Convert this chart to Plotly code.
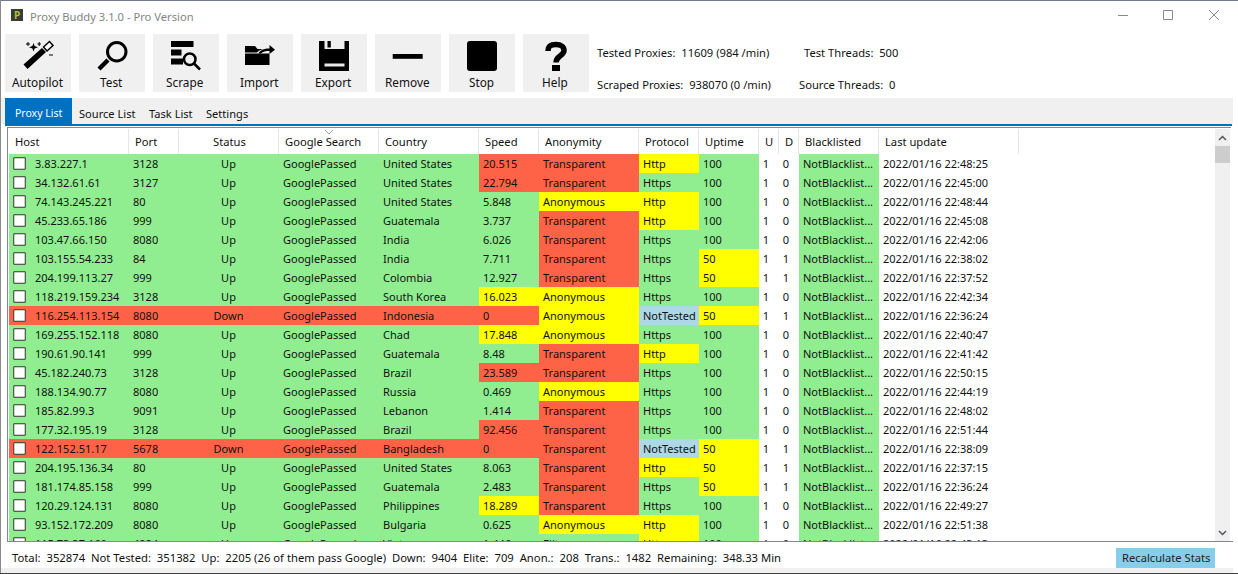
import plotly.graph_objects as go

# table contents
hosts = ["3.83.227.1", "34.132.61.61", "74.143.245.221", "45.233.65.186", "103.47.66.150", "103.155.54.233", "204.199.113.27",
         "118.219.159.234", "116.254.113.154", "169.255.152.118", "190.61.90.141", "45.182.240.73", "188.134.90.77", "185.82.99.3",
         "177.32.195.19", "122.152.51.17", "204.195.136.34", "181.174.85.158", "120.29.124.131", "93.152.172.209", "115.73.37.160"]
ports = ["3128", "3127", "80", "999", "8080", "84", "999", "3128", "8080", "8080", "999", "3128", "8080", "9091", "3128", "5678",
         "80", "999", "8080", "8080", "4284"]
statuses = ["Up", "Up", "Up", "Up", "Up", "Up", "Up", "Up", "Down", "Up", "Up", "Up", "Up", "Up", "Up", "Down", "Up", "Up", "Up", "Up", "Up"]
google = ["GooglePassed"] * 21
countries = ["United States", "United States", "United States", "Guatemala", "India", "India", "Colombia", "South Korea", "Indonesia",
             "Chad", "Guatemala", "Brazil", "Russia", "Lebanon", "Brazil", "Bangladesh", "United States", "Guatemala", "Philippines",
             "Bulgaria", "Vietnam"]
speeds = ["20.515", "22.794", "5.848", "3.737", "6.026", "7.711", "12.927", "16.023", "0", "17.848", "8.48", "23.589", "0.469", "1.414",
          "92.456", "0", "8.063", "2.483", "18.289", "0.625", "1.446"]
anonymity = ["Transparent", "Transparent", "Anonymous", "Transparent", "Transparent", "Transparent", "Transparent", "Anonymous",
             "Anonymous", "Anonymous", "Transparent", "Transparent", "Anonymous", "Transparent", "Transparent", "Transparent",
             "Transparent", "Transparent", "Transparent", "Anonymous", "Elite"]
protocols = ["Http", "Https", "Http", "Http", "Https", "Https", "Https", "Https", "NotTested", "Https", "Http", "Https", "Https", "Https",
             "Https", "NotTested", "Http", "Https", "Https", "Http", "Http"]
uptimes = ["100", "100", "100", "100", "100", "50", "50", "100", "50", "100", "100", "100", "100", "100", "100", "50", "50", "50", "100", "100", "100"]
ups = ["1"] * 21
downs = ["0", "0", "0", "0", "0", "1", "1", "0", "1", "0", "0", "0", "0", "0", "0", "1", "1", "1", "0", "0", "0"]
blacklisted = ["NotBlacklist..."] * 21
updates = ["22:48:25", "22:45:00", "22:48:44", "22:45:08", "22:42:06", "22:38:02", "22:37:52", "22:42:34", "22:36:24", "22:40:47",
           "22:41:42", "22:50:15", "22:44:19", "22:48:02", "22:51:44", "22:38:09", "22:37:15", "22:36:24", "22:49:27", "22:51:38", "22:43:13"]
updates = ["2022/01/16 " + t for t in updates]

headers = ["Host", "Port", "Status", "Google Search", "Country", "Speed", "Anonymity", "Protocol", "Uptime", "U", "D", "Blacklisted", "Last update"]
buttons = ["Autopilot", "Test", "Scrape", "Import", "Export", "Remove", "Stop", "Help"]
tabs = ["Proxy List", "Source List", "Task List", "Settings"]

FONT = "Noto Sans"
FS = 11
LABEL_FS = 11.2
INK = "#111111"
WHITE, GREEN, RED, YELLOW, BLUE = 0, 1, 2, 3, 4
PALETTE = ["#ffffff", "#90ee90", "#ff6347", "#ffff00", "#add8e6"]

col_edges = [9, 129, 179, 279, 379, 479, 539, 639, 699, 759, 779, 799, 879, 1019]
row_edges = [154 + 19 * i for i in range(len(hosts) + 1)]
row_mid = [154 + 9.5 + 19 * i for i in range(len(hosts))]
text_y = [y + 1.5 for y in row_mid]


def speed_code(speed, status):
    val = float(speed)
    if status == "Down" or val >= 20:
        return RED
    return YELLOW if val >= 16 else GREEN


z = []
for i in range(len(hosts)):
    base = RED if statuses[i] == "Down" else GREEN
    z.append([base, base, base, base, base,
              speed_code(speeds[i], statuses[i]),
              {"Transparent": RED, "Anonymous": YELLOW, "Elite": GREEN}[anonymity[i]],
              {"Http": YELLOW, "Https": GREEN, "NotTested": BLUE}[protocols[i]],
              GREEN if uptimes[i] == "100" else YELLOW,
              WHITE, WHITE, GREEN, WHITE])

fig = go.Figure()
fig.add_trace(go.Heatmap(x=col_edges, y=row_edges, z=z, zmin=0, zmax=4, showscale=False, hoverinfo="skip",
                         colorscale=[[i / 4, c] for i, c in enumerate(PALETTE)]))
fig.add_trace(go.Scatter(x=[19.5] * len(hosts), y=row_mid, mode="markers", hoverinfo="skip",
                         marker=dict(symbol="square", size=11.5, color="white", line=dict(color="#333333", width=1))))

columns = [(hosts, 35, "middle right"), (ports, 133, "middle right"), (statuses, 228.5, "middle center"),
           (google, 283, "middle right"), (countries, 383, "middle right"), (speeds, 483, "middle right"),
           (anonymity, 543, "middle right"), (protocols, 643, "middle right"), (uptimes, 703, "middle right"),
           (ups, 766, "middle center"), (downs, 786, "middle center"), (blacklisted, 803, "middle right"),
           (updates, 883, "middle right")]
for values, x, pos in columns:
    fig.add_trace(go.Scatter(x=[x] * len(values), y=text_y, mode="text", text=values, textposition=pos, hoverinfo="skip",
                             textfont=dict(family=FONT, size=FS, color=INK)))

shapes = []
notes = []


def rect(x0, y0, x1, y1, color, layer="above"):
    shapes.append(dict(type="rect", x0=x0, y0=y0, x1=x1, y1=y1, fillcolor=color, line_width=0, layer=layer))


def line(x0, y0, x1, y1, color, width=1):
    shapes.append(dict(type="line", x0=x0, y0=y0, x1=x1, y1=y1, line=dict(color=color, width=width), layer="above"))


def path(d, fill="black", stroke=None, width=0):
    shapes.append(dict(type="path", path=d, fillcolor=fill, layer="above", line=dict(color=stroke or "rgba(0,0,0,0)", width=width)))


def label(x, y, text, color=INK, size=LABEL_FS, anchor="left", family=FONT):
    # annotations sit about 1px right of the given x when left anchored
    notes.append(dict(x=x - 1 if anchor == "left" else x, y=y, text=text, showarrow=False, xanchor=anchor, yanchor="middle", borderpad=0,
                      font=dict(family=family, size=size, color=color)))


# window chrome
rect(0, 0, 1238, 1, "#6f7b8a")
rect(0, 0, 1, 574, "#8a8a8a")
rect(0, 573, 1238, 574, "#404040")
rect(11, 9, 23, 21, "#3a3a3a")
label(17, 15, "<b>P</b>", "#a8c81e", 10, "center")
label(30, 16, "Proxy Buddy 3.1.0 - Pro Version", "#858585", 11.2)
line(1118, 15.5, 1128, 15.5, "#888888")
shapes.append(dict(type="rect", x0=1163.5, y0=10.5, x1=1172.5, y1=19.5, line=dict(color="#888888", width=1), layer="above"))
line(1209, 10, 1219, 20, "#888888")
line(1219, 10, 1209, 20, "#888888")

# toolbar
for i, name in enumerate(buttons):
    x0 = 5 + 74 * i
    rect(x0, 34, x0 + 66, 92, "#f0f0f0")
    label(x0 + 32, 82, name, INK, 11.8, "center")

# autopilot wand
path("M23.5,64.5 L27.5,69 L46,52 L42,48 Z")
path("M43.5,47 L47,51 L53,45.5 L49.5,41.5 Z", "white", "black", 1.5)
path("M33.5,43 L34.6,46 L38,47.2 L34.6,48.4 L33.5,51.5 L32.4,48.4 L29,47.2 L32.4,46 Z")
line(26, 44, 30, 44, "black")
line(28, 42, 28, 46, "black")
line(37.5, 44, 41, 44, "black")
line(39.2, 42, 39.2, 46, "black")
line(49, 55, 53, 55, "black")
# test magnifier
shapes.append(dict(type="circle", x0=107.5, y0=42.5, x1=126, y1=61, line=dict(color="black", width=3), fillcolor="rgba(0,0,0,0)", layer="above"))
line(108, 60, 99, 69, "black", 4.5)
# scrape
rect(171, 41, 193.5, 47, "black")
rect(171, 49.5, 181.5, 55.5, "black")
rect(171, 58.5, 183, 64.5, "black")
shapes.append(dict(type="circle", x0=184, y0=53.5, x1=195.5, y1=65, line=dict(color="black", width=2.5), fillcolor="#f0f0f0", layer="above"))
line(194, 63.5, 200, 69.5, "black", 2.5)
# import folder
path("M245,46 L255,46 L257.5,49 L263,49 C260,50 258,51 257,52.5 L245,52.5 Z")
rect(245, 53.5, 269.5, 65, "black")
path("M258.5,53.5 C260,50 264,48.5 269.5,48.5 L269.5,45 L275,49.8 L269.5,54 L269.5,51 C266,51 262.5,51.5 261,53.5 Z")
# export floppy
rect(319, 41, 349, 71, "black")
rect(324.5, 41, 344.5, 49, "#f0f0f0")
rect(327.5, 41, 330.8, 47.5, "black")
rect(324.5, 63.5, 344.5, 66.5, "#e8e8e8")
# remove, stop, help icon
rect(392.7, 54, 422.7, 58.8, "black")
path("M470,41 L494,41 Q497,41 497,44 L497,68 Q497,71 494,71 L470,71 Q467,71 467,68 L467,44 Q467,41 470,41 Z")
path("M548,51 C548,46 551,44.5 556,44.5 C561,44.5 564,47 564,50.5 C564,56 556,55.5 556,62.5", "rgba(0,0,0,0)", "black", 5.5)
rect(552, 65, 560, 71, "black")

# counters next to the toolbar
label(597, 52.5, "Tested Proxies:\u00a0\u00a011609 (984 /min)")
label(597, 84.5, "Scraped Proxies:\u00a0\u00a0938070 (0 /min)")
label(804, 52.5, "Test Threads:\u00a0\u00a0500")
label(799, 84.5, "Source Threads:\u00a0\u00a00")

# tab strip
rect(1, 98, 1233, 124, "#f0f0f0")
rect(5, 124, 1232, 126, "#0070c0")
rect(5, 98, 72, 124, "#0070c0")
for name, x, color, size in zip(tabs, [38.5, 106.5, 171, 227], ["white", INK, INK, INK], [10.5, 11.1, 11.1, 11.1]):
    label(x, 113, name, color, size, "center")

# table header
rect(7, 127, 1231, 128, "#828790")
rect(7, 127, 8, 542, "#828790")
for x in col_edges[1:]:
    line(x - 0.5, 129, x - 0.5, 154, "#e5e5e5")
header_x = [15, 135, 229, 285, 385, 485, 545, 645, 705, 769, 789, 805, 885]
for name, x in zip(headers, header_x):
    label(x, 141.5, name, INK, LABEL_FS, "center" if name in ("Status", "U", "D") else "left")
path("M325,130 L329,134 L333,130", "rgba(0,0,0,0)", "#a0a0a0", 1)

# scrollbar
rect(1215, 129, 1230, 541, "#f0f0f0")
rect(1215, 146, 1230, 163, "#cdcdcd")
path("M1219,140 L1222.5,136.5 L1226,140", "rgba(0,0,0,0)", "#555555", 1.5)
path("M1219,531 L1222.5,534.5 L1226,531", "rgba(0,0,0,0)", "#555555", 1.5)

# status bar hides the half row at the bottom of the list
rect(1, 541, 1238, 573, "white")
rect(7, 541, 1233, 542, "#828790")
rect(1, 568, 1238, 573, "#f0f0f0")
rect(1233, 98, 1238, 573, "white")
rect(1116, 548, 1215, 568, "#87ceeb")
label(1165.5, 557.5, "Recalculate Stats", "#222222", LABEL_FS, "center")
label(12, 557.5, "Total:\u00a0\u00a0352874\u00a0\u00a0Not Tested:\u00a0\u00a0351382\u00a0\u00a0Up:\u00a0\u00a02205 (26 of them pass Google)\u00a0\u00a0Down:\u00a0\u00a09404"
                 "\u00a0\u00a0Elite:\u00a0\u00a0709\u00a0\u00a0Anon.:\u00a0\u00a0208\u00a0\u00a0Trans.:\u00a0\u00a01482\u00a0\u00a0Remaining:\u00a0\u00a0348.33 Min", size=11.28)

fig.update_layout(width=1238, height=574, margin=dict(l=0, r=0, t=0, b=0), showlegend=False,
                  paper_bgcolor="white", plot_bgcolor="white", shapes=shapes, annotations=notes,
                  xaxis=dict(range=[0, 1238], visible=False, fixedrange=True),
                  yaxis=dict(range=[574, 0], visible=False, fixedrange=True))

fig.write_html("out.html", config={"displayModeBar": False},
               post_script="document.body.style.margin='0';document.body.style.overflow='hidden';")
